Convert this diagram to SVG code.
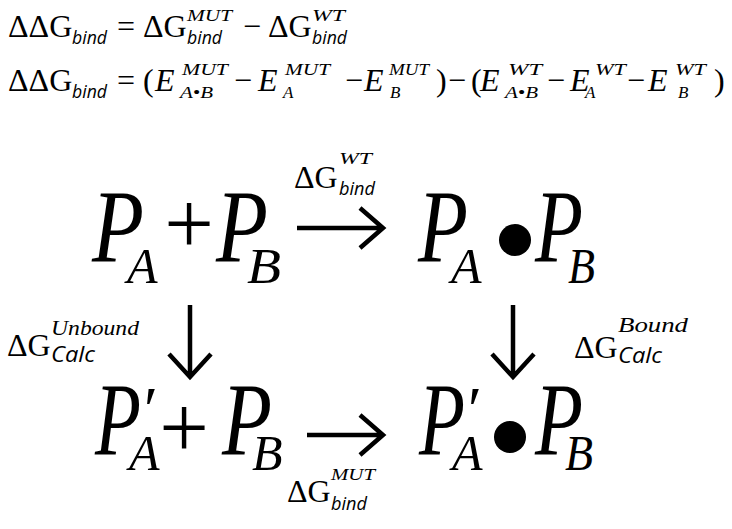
<svg xmlns="http://www.w3.org/2000/svg" width="732" height="529" viewBox="0 0 732 529">
<style>
.r{font-family:"Liberation Serif",serif;fill:#000}
.i{font-family:"Liberation Serif",serif;font-style:italic;fill:#000}
.s{font-family:"Open Sans",sans-serif;font-style:italic;fill:#000}
.e{font-size:32px}
.sup{font-size:17px}
.sub{font-size:19px}
.big{font-size:104px}
.bsub{font-size:50px}
.plus{font-size:88px}
.prime{font-size:64px}
.arr{fill:none;stroke:#000;stroke-width:4.5}
</style>
<rect width="732" height="529" fill="#fff"/>
<g id="eq1">
<text class="r e" x="8" y="37">ΔΔG</text>
<text class="s sub" x="72" y="44" textLength="35" lengthAdjust="spacingAndGlyphs">bind</text>
<text class="r e" x="117" y="37">=</text>
<text class="r e" x="143" y="37">ΔG</text>
<text class="i sup" x="187" y="21" textLength="45" lengthAdjust="spacingAndGlyphs">MUT</text>
<text class="s sub" x="187" y="44" textLength="35" lengthAdjust="spacingAndGlyphs">bind</text>
<text class="r e" x="243" y="37">−</text>
<text class="r e" x="268" y="37">ΔG</text>
<text class="i sup" x="312" y="21" textLength="33" lengthAdjust="spacingAndGlyphs">WT</text>
<text class="s sub" x="312" y="44" textLength="35" lengthAdjust="spacingAndGlyphs">bind</text>
</g>
<g id="eq2">
<text class="r e" x="8" y="91">ΔΔG</text>
<text class="s sub" x="72" y="98" textLength="35" lengthAdjust="spacingAndGlyphs">bind</text>
<text class="r e" x="117" y="91">=</text>
<text class="r e" x="143" y="91">(</text>
<text class="i e" x="155" y="91">E</text>
<text class="i sup" x="182" y="75" textLength="46" lengthAdjust="spacingAndGlyphs">MUT</text>
<text class="i sup" x="180" y="98" textLength="33" lengthAdjust="spacingAndGlyphs">A<tspan class="r">•</tspan>B</text>
<text class="r e" x="234" y="91">−</text>
<text class="i e" x="258" y="91">E</text>
<text class="i sup" x="285" y="75" textLength="45" lengthAdjust="spacingAndGlyphs">MUT</text>
<text class="i sup" x="283" y="98">A</text>
<text class="r e" x="345" y="91">−</text>
<text class="i e" x="364" y="91">E</text>
<text class="i sup" x="389" y="75" textLength="40" lengthAdjust="spacingAndGlyphs">MUT</text>
<text class="i sup" x="390" y="98">B</text>
<text class="r e" x="436" y="91">)</text>
<text class="r e" x="448" y="91">−</text>
<text class="r e" x="471" y="91">(</text>
<text class="i e" x="480" y="91">E</text>
<text class="i sup" x="508" y="75" textLength="34" lengthAdjust="spacingAndGlyphs">WT</text>
<text class="i sup" x="505" y="98" textLength="33" lengthAdjust="spacingAndGlyphs">A<tspan class="r">•</tspan>B</text>
<text class="r e" x="547" y="91">−</text>
<text class="i e" x="570" y="91">E</text>
<text class="i sup" x="595" y="75" textLength="31" lengthAdjust="spacingAndGlyphs">WT</text>
<text class="i sup" x="585" y="98">A</text>
<text class="r e" x="627" y="91">−</text>
<text class="i e" x="648" y="91">E</text>
<text class="i sup" x="675" y="75" textLength="31" lengthAdjust="spacingAndGlyphs">WT</text>
<text class="i sup" x="678" y="98">B</text>
<text class="r e" x="714" y="91">)</text>
</g>
<g id="PA_plus_PB">
<text class="i big" x="92" y="262" textLength="52" lengthAdjust="spacingAndGlyphs">P</text>
<text class="i bsub" x="127" y="283">A</text>
<text class="r plus" x="189" y="253" text-anchor="middle">+</text>
<text class="i big" x="216" y="262" textLength="52" lengthAdjust="spacingAndGlyphs">P</text>
<text class="i bsub" x="247" y="283" textLength="34" lengthAdjust="spacingAndGlyphs">B</text>
</g>
<g id="PA_dot_PB">
<text class="i big" x="418" y="262" textLength="50" lengthAdjust="spacingAndGlyphs">P</text>
<text class="i bsub" x="451" y="283">A</text>
<circle cx="515" cy="240" r="16"/>
<text class="i big" x="535" y="262" textLength="48" lengthAdjust="spacingAndGlyphs">P</text>
<text class="i bsub" x="568" y="283" textLength="27" lengthAdjust="spacingAndGlyphs">B</text>
</g>
<g id="PpA_plus_PB">
<text class="i big" x="95" y="455" textLength="46" lengthAdjust="spacingAndGlyphs">P</text>
<text class="i prime" x="140" y="431">′</text>
<text class="i bsub" x="129" y="470">A</text>
<text class="r plus" x="184" y="457" text-anchor="middle">+</text>
<text class="i big" x="222" y="455" textLength="50" lengthAdjust="spacingAndGlyphs">P</text>
<text class="i bsub" x="252" y="470">B</text>
</g>
<g id="PpA_dot_PB">
<text class="i big" x="419" y="455" textLength="46" lengthAdjust="spacingAndGlyphs">P</text>
<text class="i prime" x="464" y="431">′</text>
<text class="i bsub" x="452" y="470">A</text>
<circle cx="510" cy="437" r="16"/>
<text class="i big" x="535" y="455" textLength="48" lengthAdjust="spacingAndGlyphs">P</text>
<text class="i bsub" x="565" y="470" textLength="28" lengthAdjust="spacingAndGlyphs">B</text>
</g>
<g id="connectors">
<g id="arrow_top">
<path class="arr" d="M297 228H381M360 208L383 228L360 248"/>
<text class="r e" x="294" y="188">ΔG</text>
<text class="i sup" x="339" y="164" textLength="33" lengthAdjust="spacingAndGlyphs">WT</text>
<text class="s sub" x="339" y="195" textLength="36" lengthAdjust="spacingAndGlyphs">bind</text>
</g>
<g id="arrow_bottom">
<path class="arr" d="M307 435H381M360 415L383 435L360 455"/>
<text class="r e" x="287" y="502">ΔG</text>
<text class="i sup" x="331" y="480" textLength="44" lengthAdjust="spacingAndGlyphs">MUT</text>
<text class="s sub" x="331" y="510" textLength="36" lengthAdjust="spacingAndGlyphs">bind</text>
</g>
<g id="arrow_left">
<path class="arr" d="M190 305V375M169 354L190 377L211 354"/>
<text class="r e" x="7" y="356">ΔG</text>
<text class="i" style="font-size:20px" x="51" y="335" textLength="88" lengthAdjust="spacingAndGlyphs">Unbound</text>
<text class="s" style="font-size:21px" x="51" y="362" textLength="44" lengthAdjust="spacingAndGlyphs">Calc</text>
</g>
<g id="arrow_right">
<path class="arr" d="M513 305V375M492 354L513 377L534 354"/>
<text class="r e" x="574" y="358">ΔG</text>
<text class="i" style="font-size:20px" x="618" y="332" textLength="70" lengthAdjust="spacingAndGlyphs">Bound</text>
<text class="s" style="font-size:21px" x="618" y="363" textLength="44" lengthAdjust="spacingAndGlyphs">Calc</text>
</g>
</g>
</svg>
